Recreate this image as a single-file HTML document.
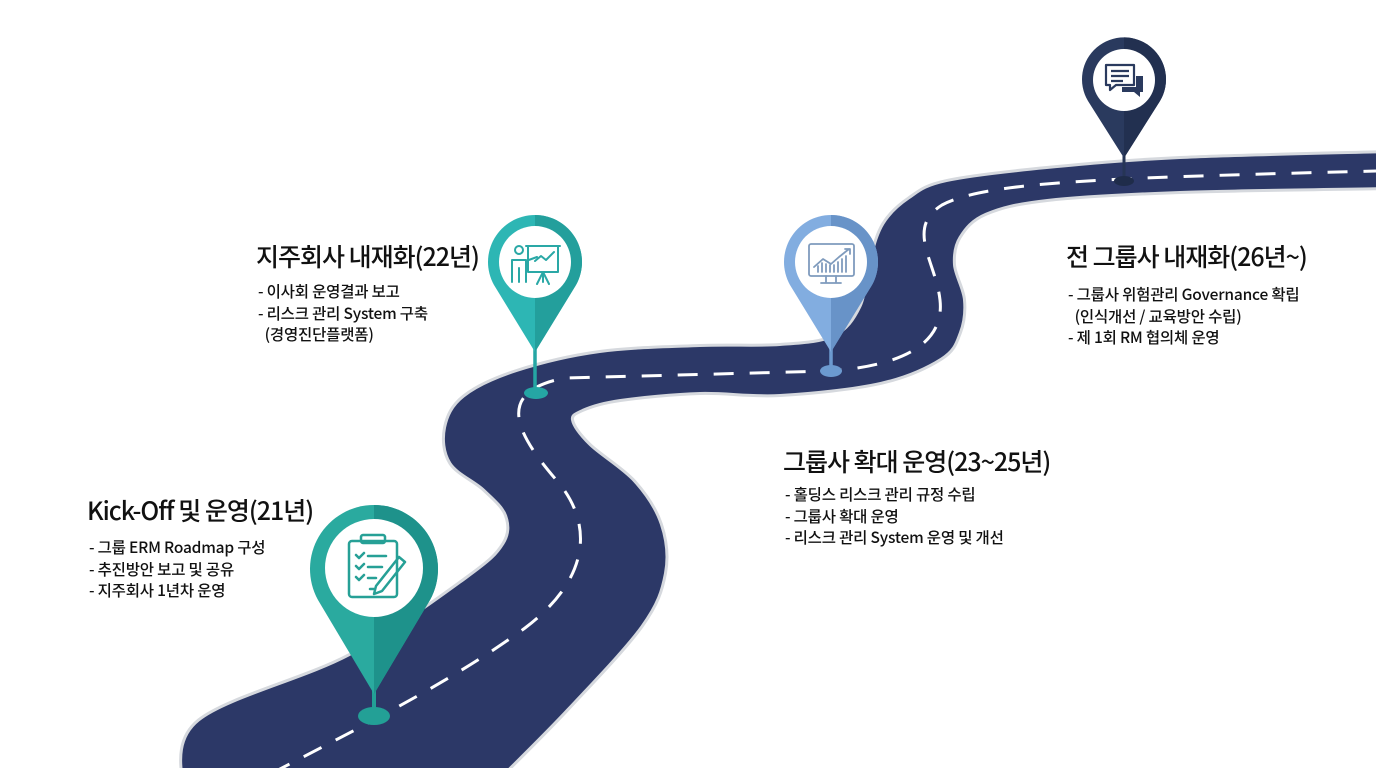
<!DOCTYPE html>
<html><head><meta charset="utf-8"><style>
html,body{margin:0;padding:0;background:#fff;}
body{width:1376px;height:768px;position:relative;overflow:hidden;font-family:"Noto Sans CJK KR","Liberation Sans",sans-serif;color:#111;}
.t{position:absolute;font-size:25px;font-weight:500;letter-spacing:-1px;white-space:nowrap;font-family:"Noto Sans CJK KR","Liberation Sans",sans-serif;}
.b{position:absolute;font-size:15.5px;line-height:21.5px;white-space:nowrap;font-family:"Noto Sans CJK KR","Liberation Sans",sans-serif;font-weight:500;letter-spacing:-0.2px;}
svg{position:absolute;left:0;top:0;}
</style></head><body>
<svg width="1376" height="768" viewBox="0 0 1376 768">
<defs>
<clipPath id="r1"><rect x="374" y="0" width="200" height="768"/></clipPath>
<clipPath id="r2"><rect x="535" y="0" width="200" height="768"/></clipPath>
<clipPath id="r3"><rect x="831" y="0" width="200" height="768"/></clipPath>
<clipPath id="r4"><rect x="1124" y="0" width="200" height="768"/></clipPath>
</defs>
<!-- road -->
<path id="roadS" d="" fill="#d6d9de" stroke="#d6d9de" stroke-width="8" stroke-linejoin="round"/>
<path id="roadF" d="" fill="#2c3867" stroke="#2c3867" stroke-width="2" stroke-linejoin="round"/>
<path d="M240,790 C330,742 440,690 525,628 C595,575 590,520 558,482 C520,438 490,392 565,378 L830,371 C900,366 945,345 940,300 C936,262 905,228 942,205 C985,182 1100,178 1376,171" fill="none" stroke="#fff" stroke-width="3" stroke-dasharray="20 16"/>

<!-- pin1 -->
<g>
<line x1="374" y1="680" x2="374" y2="712" stroke="#23a096" stroke-width="4"/>
<ellipse cx="374" cy="716" rx="16" ry="9" fill="#23a096"/>
<path d="M374,694 L318,600 A64,64 0 1 1 430,600 Z" fill="#2aaa9f"/>
<path d="M374,694 L318,600 A64,64 0 1 1 430,600 Z" fill="#1e928b" clip-path="url(#r1)"/>
<circle cx="374" cy="568" r="49" fill="#fff"/>
<g fill="none" stroke="#26a096" stroke-width="2.5" stroke-linejoin="round" stroke-linecap="round">
<rect x="349" y="541" width="48" height="56" rx="3"/>
<rect x="361" y="535" width="24" height="8" rx="2"/>
<path d="M356,555 l3,3 l5,-5 M356,566 l3,3 l5,-5 M356,577 l3,3 l5,-5 M368,556 h18 M368,567 h14 M368,578 h8 M370,589 h4"/>
<path d="M376,586 L399,557 l6,5 L382,591 l-8,3 z"/>
</g>
</g>
<!-- pin2 -->
<g>
<line x1="535" y1="340" x2="535" y2="390" stroke="#25a6a4" stroke-width="3.5"/>
<ellipse cx="536" cy="393" rx="12" ry="6" fill="#25a6a4"/>
<path d="M535,352 L494,285 A47,47 0 1 1 576,285 Z" fill="#2db6b4"/>
<path d="M535,352 L494,285 A47,47 0 1 1 576,285 Z" fill="#239f9c" clip-path="url(#r2)"/>
<circle cx="535" cy="262" r="36" fill="#fff"/>
<g fill="none" stroke="#2aa8a6" stroke-width="2" stroke-linecap="round" stroke-linejoin="round">
<circle cx="519" cy="250" r="4"/>
<path d="M512,282 v-22 h14 v22 M519,268 v14 M526,261 l11,-4"/>
<rect x="528" y="246" width="30" height="26"/>
<path d="M526,246 h34 M535,261 l6,-5 l5,4 l8,-8 M543,272 l-6,12 M543,272 l6,12 M543,272 v10"/>
</g>
</g>
<!-- pin3 -->
<g>
<line x1="831" y1="340" x2="831" y2="368" stroke="#6c9ad0" stroke-width="3.5"/>
<ellipse cx="831" cy="371" rx="11" ry="6" fill="#6c9ad0"/>
<path d="M831,352 L790,285 A47,47 0 1 1 872,285 Z" fill="#82ade0"/>
<path d="M831,352 L790,285 A47,47 0 1 1 872,285 Z" fill="#6893c8" clip-path="url(#r3)"/>
<circle cx="831" cy="262" r="36" fill="#fff"/>
<g fill="none" stroke="#7f9bbd" stroke-width="1.8" stroke-linecap="round" stroke-linejoin="round">
<rect x="809" y="244" width="45" height="32" rx="2"/>
<path d="M826,276 v6 M836,276 v6 M821,283 h20 M814,267 l9,-8 l8,5 l8,-7 l10,-8 M845,249 h5 v5"/>
<path d="M818,272 v-6 M822,272 v-9 M826,272 v-8 M830,272 v-7 M834,272 v-7 M838,272 v-10 M842,272 v-13 M846,272 v-16"/>
</g>
</g>
<!-- pin4 -->
<g>
<line x1="1124" y1="150" x2="1124" y2="178" stroke="#263556" stroke-width="3"/>
<ellipse cx="1124" cy="181" rx="10" ry="5" fill="#1f2c4a"/>
<path d="M1124,158 L1088,101 A42,42 0 1 1 1160,101 Z" fill="#2a3a5e"/>
<path d="M1124,158 L1088,101 A42,42 0 1 1 1160,101 Z" fill="#223050" clip-path="url(#r4)"/>
<circle cx="1124" cy="80" r="31" fill="#fff"/>
<g fill="none" stroke="#2a3a5e" stroke-width="2.2" stroke-linejoin="round">
<path d="M1106,65 h28 v20 h-18 l-6,5 v-5 h-4 z"/>
<path d="M1111,71 h18 M1111,76 h18 M1111,81 h12"/>
</g>
<path d="M1136,76 h7 v16 h-3 v5 l-6,-5 h-12 v-5 h14 z" fill="#2a3a5e"/>
</g>
</svg>

<div class="t" style="left:87px;top:492px;">Kick-Off 및 운영(21년)</div>
<div class="b" style="left:89px;top:537px;">- 그룹 ERM Roadmap 구성<br>- 추진방안 보고 및 공유<br>- 지주회사 1년차 운영</div>

<div class="t" style="left:256px;top:238px;">지주회사 내재화(22년)</div>
<div class="b" style="left:258px;top:281px;">- 이사회 운영결과 보고<br>- 리스크 관리 System 구축<br>&nbsp;&nbsp;(경영진단플랫폼)</div>

<div class="t" style="left:783px;top:443px;">그룹사 확대 운영(23~25년)</div>
<div class="b" style="left:785px;top:484px;">- 홀딩스 리스크 관리 규정 수립<br>- 그룹사 확대 운영<br>- 리스크 관리 System 운영 및 개선</div>

<div class="t" style="left:1066px;top:238px;">전 그룹사 내재화(26년~)</div>
<div class="b" style="left:1068px;top:284px;">- 그룹사 위험관리 Governance 확립<br>&nbsp;&nbsp;(인식개선 / 교육방안 수립)<br>- 제 1회 RM 협의체 운영</div>
<script>
(function(){
var up=[[185,790],[200,722],[350,657],[467,580],[505,545],[508,515],[485,488],[452,462],[447,428],[465,398],[517,373],[600,354],[700,348],[780,347],[835,338],[862,308],[872,262],[885,225],[910,200],[947,183],[1047,170],[1180,160],[1390,154]];
var lo=[[1390,186],[1180,190],[1047,198],[985,212],[958,236],[952,265],[962,300],[958,332],[940,357],[880,381],[780,393],[700,391],[620,398],[582,408],[570,420],[588,446],[633,483],[659,525],[663,573],[640,625],[567,707],[500,775]];
function cr(p){var d="M"+p[0][0]+","+p[0][1];for(var i=0;i<p.length-1;i++){var p0=p[i-1]||p[i],p1=p[i],p2=p[i+1],p3=p[i+2]||p2;var c1=[p1[0]+(p2[0]-p0[0])/6,p1[1]+(p2[1]-p0[1])/6],c2=[p2[0]-(p3[0]-p1[0])/6,p2[1]-(p3[1]-p1[1])/6];d+=" C"+c1[0].toFixed(1)+","+c1[1].toFixed(1)+" "+c2[0].toFixed(1)+","+c2[1].toFixed(1)+" "+p2[0]+","+p2[1];}return d;}
var d=cr(up)+" L"+cr(lo).slice(1)+" Z";
document.getElementById("roadS").setAttribute("d",d);
document.getElementById("roadF").setAttribute("d",d);
})();
</script>
</body></html>
